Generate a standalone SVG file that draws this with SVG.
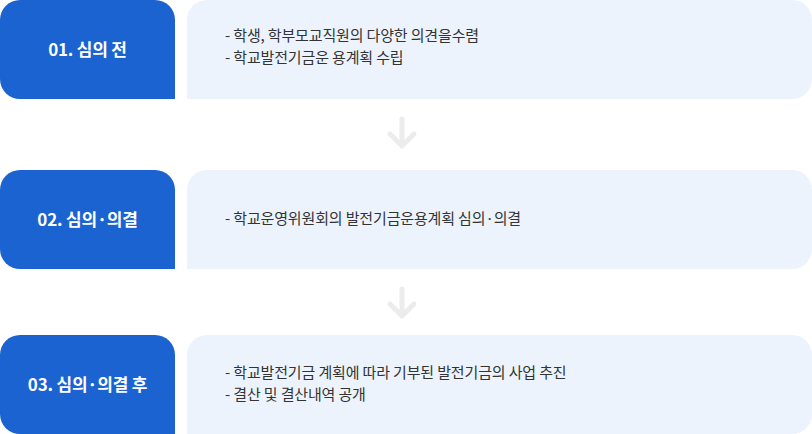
<svg xmlns="http://www.w3.org/2000/svg" width="812" height="434" viewBox="0 0 812 434">
<style>
.step{fill:#1a63d1}
.body{fill:#ecf3fd}
.t{font-family:"Noto Sans CJK KR","Noto Sans",sans-serif;font-size:17px;font-weight:700;fill:#fff;text-anchor:middle;letter-spacing:-0.2px}
.d{font-family:"Noto Sans CJK KR","Noto Sans",sans-serif;font-size:15px;fill:#333;letter-spacing:-0.15px}
.arr{fill:none;stroke:#ececec;stroke-width:5;stroke-linecap:round;stroke-linejoin:round}
</style>
<defs>
<path id="bl" d="M20,0 H155 A20,20 0 0 1 175,20 V99 H20 A20,20 0 0 1 0,79 V20 A20,20 0 0 1 20,0 Z"/>
<path id="lt" d="M207,0 H792 A20,20 0 0 1 812,20 V79 A20,20 0 0 1 792,99 H187 V20 A20,20 0 0 1 207,0 Z"/>
</defs>
<g id="connectors">
<path class="arr" d="M402,119 V146 M390,134 L402,146 L414,134"/>
<path class="arr" d="M402,289 V316 M390,304 L402,316 L414,304"/>
</g>
<g id="node1">
<use href="#bl" class="step"/>
<use href="#lt" class="body"/>
<text class="t" x="87.5" y="56">01. 심의 전</text>
<text class="d" x="225" y="41">- 학생, 학부모교직원의 다양한 의견을수렴</text>
<text class="d" x="225" y="63">- 학교발전기금운 용계획 수립</text>
</g>
<g id="node2" transform="translate(0,170)">
<use href="#bl" class="step"/>
<use href="#lt" class="body"/>
<text class="t" x="87.5" y="56">02. 심의·의결</text>
<text class="d" x="225" y="54">- 학교운영위원회의 발전기금운용계획 심의·의결</text>
</g>
<g id="node3" transform="translate(0,335)">
<use href="#bl" class="step"/>
<use href="#lt" class="body"/>
<text class="t" x="87.5" y="56">03. 심의·의결 후</text>
<text class="d" x="225" y="43">- 학교발전기금 계획에 따라 기부된 발전기금의 사업 추진</text>
<text class="d" x="225" y="65">- 결산 및 결산내역 공개</text>
</g>
</svg>
